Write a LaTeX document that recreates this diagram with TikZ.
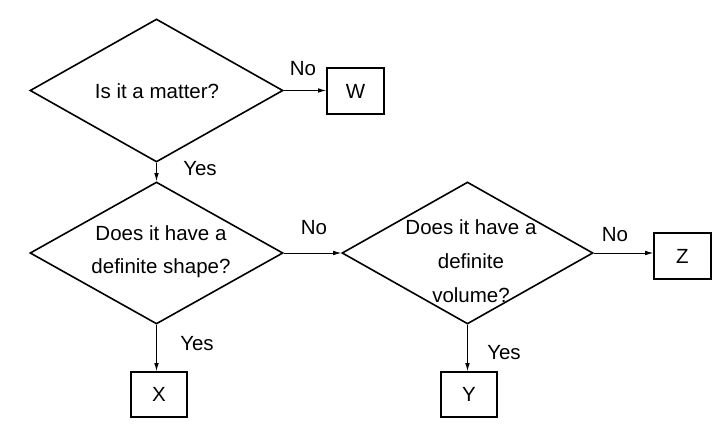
\documentclass[tikz,border=0pt]{standalone}
\usepackage{fontspec}
\setmainfont{Liberation Sans}
\usetikzlibrary{shapes.geometric,arrows.meta}
\begin{document}
\begin{tikzpicture}[x=1pt,y=-1pt,
  dia/.style={draw,line width=1.6pt,diamond,inner sep=0pt,line join=miter},
  box/.style={draw,line width=1.6pt,rectangle,inner sep=0pt},
  txt/.style={font=\fontsize{20.5}{33}\selectfont,align=center,inner sep=0pt},
  conn/.style={line width=0.8pt,-{Latex[length=8pt,width=4.5pt]}}]
\useasboundingbox (0,0) rectangle (724,436);
\node[dia,minimum width=253pt,minimum height=143pt] (d1) at (156.5,90.5) {};
\node[dia,minimum width=253pt,minimum height=142pt] (d2) at (156.5,253) {};
\node[dia,minimum width=251pt,minimum height=142pt] (d3) at (467.5,253) {};
\node[txt] (t1) at (157,91) {Is it a matter?};
\node[txt] (t2) at (161,251.5) {Does it have a\\definite shape?};
\node[txt,font=\fontsize{20.5}{34}\selectfont] (t3) at (471,261) {Does it have a\\definite\\volume?};
\node[box,minimum width=57pt,minimum height=46pt,txt] (W) at (355.5,91) {W};
\node[box,minimum width=56pt,minimum height=45pt,txt] (X) at (159,394.5) {X};
\node[box,minimum width=56pt,minimum height=45pt,txt] (Y) at (469,394.5) {Y};
\node[box,minimum width=57pt,minimum height=46pt,txt] (Z) at (682.5,256) {Z};
\draw[conn] (d1.east) -- (d1.east -| W.west);
\draw[conn] (d1.south) -- (d2.north);
\draw[conn] (d2.east) -- (d3.west);
\draw[conn] (d3.east) -- (d3.east -| Z.west);
\draw[conn] (d2.south) -- (d2.south |- X.north);
\draw[conn] (d3.south) -- (d3.south |- Y.north);
\node[txt] (n1) at (303,69) {No};
\node[txt] (y1) at (200,169) {Yes};
\node[txt] (n2) at (314,228) {No};
\node[txt] (y2) at (197,344) {Yes};
\node[txt] (n3) at (615,235) {No};
\node[txt] (y3) at (504,353) {Yes};
\end{tikzpicture}
\end{document}
